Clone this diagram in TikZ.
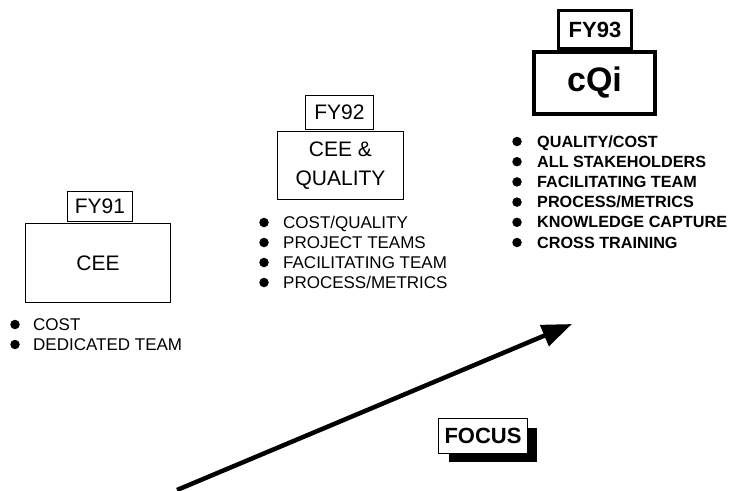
\documentclass[tikz,border=0pt]{standalone}
\usepackage{fontspec}
\setmainfont{Liberation Sans}
\usetikzlibrary{arrows.meta,shadows}

\begin{document}
\begin{tikzpicture}[x=1pt,y=-1pt,
        tag/.style={draw,fill=white,line width=1.4pt,inner sep=0pt,font=\fontsize{21}{24}\selectfont},
        stage/.style={draw,fill=white,line width=1.4pt,inner sep=0pt,align=center,font=\fontsize{21}{29}\selectfont},
        dot/.style={circle,fill,inner sep=0pt,minimum size=9.5pt},
        item/.style={anchor=base west,inner sep=0pt,font=\fontsize{17}{20}\selectfont},
        bolditem/.style={item,font=\fontsize{16.2}{20}\selectfont\bfseries}]
        \useasboundingbox (0,0) rectangle (747,490);
        \node (cee) [stage,minimum width=144.5pt,minimum height=78.5pt] at (98,263) {CEE};
        \node (fy91) [tag,minimum width=64.5pt,minimum height=29.5pt] at (100,206.5) {FY91};
        \node (ceeq) [stage,minimum width=125.5pt,minimum height=67.5pt] at (340.5,165.5) {CEE \&\\QUALITY};
        \node (fy92) [tag,minimum width=67.5pt,minimum height=33.5pt] at (339.5,112.5) {FY92};
        \node (cqi) [stage,line width=4pt,minimum width=121pt,minimum height=62pt,font=\fontsize{34}{36}\selectfont\bfseries] at (594.5,83) {cQi};
        \node (fy93) [tag,line width=3pt,minimum width=73pt,minimum height=38pt,font=\fontsize{22}{24}\selectfont\bfseries] at (595,29.5) {FY93};
        \foreach \txt [count=\i] in {COST,DEDICATED TEAM} {
                \node (dotA-\i) [dot] at (15,{324.5+20*(\i-1)}) {};
                \node (itemA-\i) [item] at (33,{330+20*(\i-1)}) {\txt};
        }
        \foreach \txt [count=\i] in {COST/QUALITY,PROJECT TEAMS,FACILITATING TEAM,PROCESS/METRICS} {
                \node (dotB-\i) [dot] at (264,{222.5+20*(\i-1)}) {};
                \node (itemB-\i) [item] at (283,{228+20*(\i-1)}) {\txt};
        }
        \foreach \txt [count=\i] in {QUALITY/COST,ALL STAKEHOLDERS,FACILITATING TEAM,PROCESS/METRICS,KNOWLEDGE CAPTURE,CROSS TRAINING} {
                \node (dotC-\i) [dot] at (517,{141.5+20.2*(\i-1)}) {};
                \node (itemC-\i) [bolditem] at (537,{147+20.2*(\i-1)}) {\txt};
        }
        \coordinate (tail) at (177,490);
        \coordinate (tip) at (572,324);
        \draw [line width=4.5pt,-{Triangle[length=30pt,width=22pt]}] (tail) -- (tip);
        \node (focus) [draw,fill=white,line width=1.4pt,inner sep=0pt,minimum width=88.5pt,minimum height=34.5pt,
                font=\fontsize{22}{24}\selectfont\bfseries,
                drop shadow={shadow xshift=10pt,shadow yshift=-9pt,fill=black,opacity=1}] at (483,436) {FOCUS};
\end{tikzpicture}
\end{document}
